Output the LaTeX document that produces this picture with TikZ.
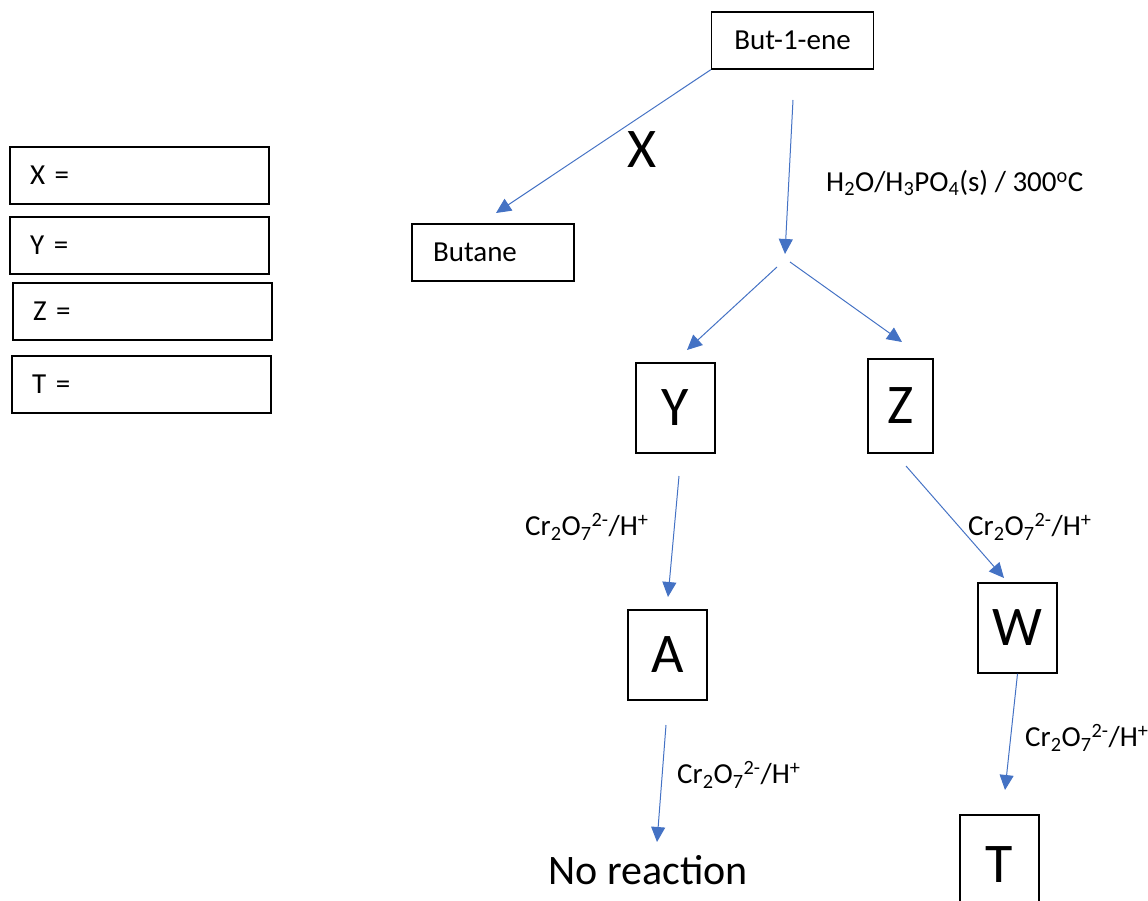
\documentclass[tikz,border=0pt]{standalone}
\usepackage{fontspec}
\setmainfont{Carlito}
\usepackage{tikz}
\usetikzlibrary{
  arrows.meta,
  positioning,
}
\definecolor{arrowblue}{HTML}{4472C4}
\newcommand{\dichromate}{Cr\textsubscript{2}O\textsubscript{7}\textsuperscript{2-}/H\textsuperscript{+}}

\begin{document}
\begin{tikzpicture}[
  x=1pt, y=-1pt,
  every node/.style={font=\fontsize{29}{34}\selectfont},
  box/.style={
    rectangle, draw, line width=1.5pt,
    minimum width=162pt, minimum height=57pt,
  },
  answer/.style={
    rectangle, draw, line width=1.5pt,
    text width=219pt, inner xsep=20pt,
    minimum height=57pt, align=left,
  },
  letter/.style={
    rectangle, draw, line width=1.5pt, inner sep=0pt,
    font=\fontsize{56}{60}\selectfont,
  },
  cond/.style={anchor=west, inner sep=0pt},
  arrow/.style={-{Triangle[length=15pt, width=14pt]}, line width=1pt, arrowblue},
]
  \useasboundingbox (0,0) rectangle (1148,901);
  \clip (0,0) rectangle (1148,901);

  % Answer boxes
  \node[answer] (ansX) at (139.5,175.5) {X =};
  \node[answer] (ansY) at (139.5,245.5) {Y =};
  \node[answer] (ansZ) at (142.5,311.5) {Z =};
  \node[answer] (ansT) at (141.5,384.5) {T =};

  % Start and hydrogenation
  \node[box] (butene) at (792.5,40.5) {But-1-ene};
  \node[box, text width=120pt, inner xsep=21pt, align=left] (butane) at (493,252.5) {Butane};
  \node[font=\fontsize{56}{60}\selectfont] (lblX) at (642,150) {X};

  % Hydration products
  \node[letter, minimum width=79pt, minimum height=90pt] (Y) at (675.5,408) {Y};
  \node[letter, minimum width=65pt, minimum height=94pt] (Z) at (900.5,406) {Z};

  % Oxidation products
  \node[letter, minimum width=79pt, minimum height=90pt] (A) at (667.5,655) {A};
  \node[letter, minimum width=79pt, minimum height=90pt] (W) at (1017.5,628) {W};
  \node[letter, minimum width=79pt, minimum height=100pt] (T) at (999.5,865) {T};
  \node[font=\fontsize{42}{48}\selectfont] (noreact) at (648,870) {No reaction};

  % Conditions
  \node[cond] (hydLbl) at (826,183) {H\textsubscript{2}O/H\textsubscript{3}PO\textsubscript{4}(s) / 300\textsuperscript{o}C};
  \node[cond] (crY) at (525,527) {\dichromate};
  \node[cond] (crZ) at (968,527) {\dichromate};
  \node[cond] (crA) at (677,775) {\dichromate};
  \node[cond] (crW) at (1025,738) {\dichromate};

  % Free arrow ends
  \coordinate (butaneIn) at (496,213);
  \coordinate (hydTop) at (793,100);
  \coordinate (split) at (785,254);
  \coordinate (splitL) at (777,267);
  \coordinate (splitR) at (790,262);
  \coordinate (yIn) at (687,350);
  \coordinate (zIn) at (902,342);
  \coordinate (yOut) at (679,476);
  \coordinate (aIn) at (668,597);
  \coordinate (zOut) at (906,466);
  \coordinate (wIn) at (1004,578);
  \coordinate (aOut) at (666,725);
  \coordinate (noIn) at (657,842);
  \coordinate (tIn) at (1005,790);

  % Arrows
  \draw[arrow] (butene.south west) -- (butaneIn);
  \draw[arrow] (hydTop) -- (split);
  \draw[arrow] (splitL) -- (yIn);
  \draw[arrow] (splitR) -- (zIn);
  \draw[arrow] (yOut) -- (aIn);
  \draw[arrow] (zOut) -- (wIn);
  \draw[arrow] (aOut) -- (noIn);
  \draw[arrow] (W.south) -- (tIn);

\end{tikzpicture}
\end{document}
